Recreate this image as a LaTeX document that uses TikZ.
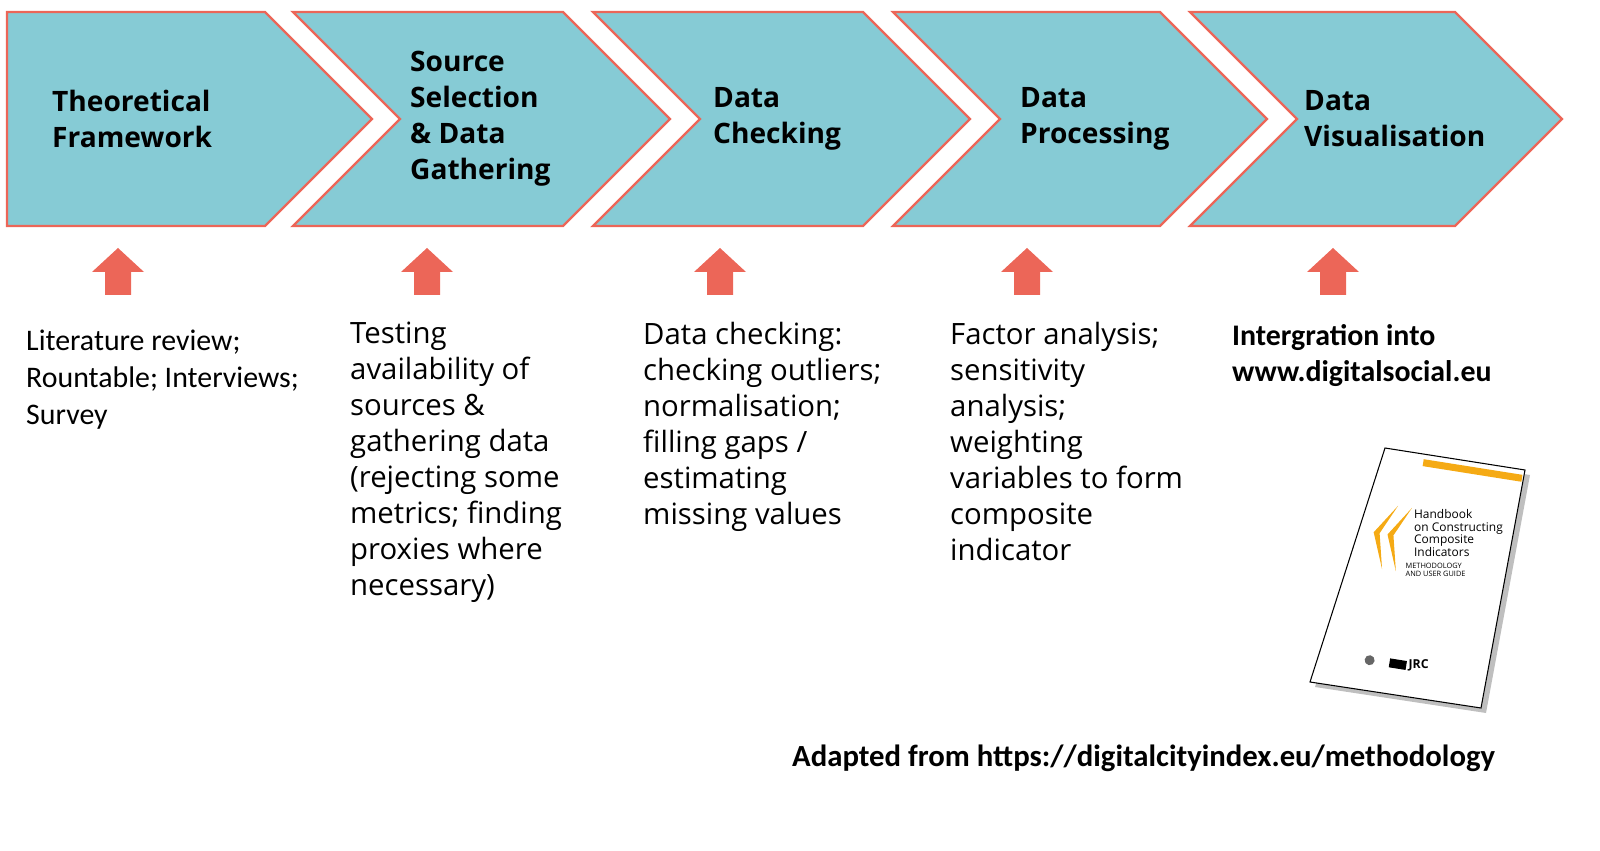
\documentclass[tikz,border=0pt]{standalone}
\usepackage{fontspec}
\setmainfont{Open Sans}
\newfontfamily\calfont{Carlito}
\usetikzlibrary{positioning}
\definecolor{stepteal}{RGB}{134,203,213}
\definecolor{salmon}{RGB}{236,102,88}
\definecolor{bookor}{RGB}{245,170,20}

\tikzset{
  stage/.style={draw=salmon,line width=1.3pt,fill=stepteal},
  title/.style={anchor=west,align=left,font=\fontsize{16}{20.5}\selectfont\bfseries},
  body/.style={anchor=north west,align=left,font=\fontsize{16.7}{20.5}\selectfont},
  uparrow/.style={fill=salmon,draw=none}
}

\begin{document}
\begin{tikzpicture}[x=0.02cm,y=-0.02cm]
\useasboundingbox (0,0) rectangle (1600,851);

% chevrons
\draw[stage] (7,12)--(265,12)--(372,119)--(265,226)--(7,226)--cycle;
\foreach \l/\r in {293/563,593/863,893/1160,1190/1455}
  \draw[stage] (\l,12)--(\r,12)--(\r+107,119)--(\r,226)--(\l,226)--(\l+107,119)--cycle;

\node[title] (tf) at (46,119) {Theoretical\\Framework};
\node[title] (ss) at (404,119) {Source\\Selection\\\& Data\\Gathering};
\node[title] (dc) at (707,119) {Data\\Checking};
\node[title] (dp) at (1014,119) {Data\\Processing};
\node[title] (dv) at (1298,119) {Data\\Visualisation};

% arrows
\foreach \x in {118,427,720,1027,1333}
  \fill[uparrow] (\x-13,295)--(\x-13,272)--(\x-26,272)--(\x,248)--(\x+26,272)--(\x+13,272)--(\x+13,295)--cycle;

% texts
\node[body,font=\calfont\fontsize{17}{21}\selectfont] (t1) at (20,324) {Literature review;\\Rountable; Interviews;\\Survey};
\node[body] (t2) at (344,316) {Testing\\availability of\\sources \&\\gathering data\\(rejecting some\\metrics; finding\\proxies where\\necessary)};
\node[body] (t3) at (637,316) {Data checking:\\checking outliers;\\normalisation;\\filling gaps /\\estimating\\missing values};
\node[body] (t4) at (944,316) {Factor analysis;\\sensitivity\\analysis;\\weighting\\variables to form\\composite\\indicator};
\node[body,font=\calfont\fontsize{17}{20.5}\selectfont\bfseries] (t5) at (1226,318) {Intergration into\\www.digitalsocial.eu};

% book
\fill[black!25] (1390,453)--(1530,475)--(1486,713)--(1315,687)--cycle;
\draw[black,line width=0.6pt,fill=white] (1385,448)--(1525,470)--(1481,708)--(1310,682)--cycle;
\begin{scope}[shift={(1385,448)},rotate=-9]
  \fill[bookor] (40,5) rectangle (140,12);
  \fill[bookor] (22,55)--(8,85)--(16,120)--(2,85)--cycle;
  \fill[bookor] (36,55)--(22,85)--(30,120)--(16,85)--cycle;
  \node[anchor=north west,align=left,font=\fontsize{6.8}{7.2}\selectfont,inner sep=0] (bt) at (38,56) {Handbook\\on Constructing\\Composite\\Indicators};
  \node[anchor=north west,align=left,font=\fontsize{4.2}{4.6}\selectfont,inner sep=0] (bs) at (38,110) {METHODOLOGY\\AND USER GUIDE};
  \fill[black!60] (18,212) circle (5);
  \fill[black] (38,207) rectangle (55,216);
  \node[anchor=west,font=\fontsize{7}{7}\selectfont\bfseries,inner sep=0] (jrc) at (57,211) {JRC};
\end{scope}

\node[anchor=west,font=\calfont\fontsize{17.5}{20}\selectfont\bfseries] (src) at (786,758) {Adapted from https://digitalcityindex.eu/methodology};
\end{tikzpicture}
\end{document}
